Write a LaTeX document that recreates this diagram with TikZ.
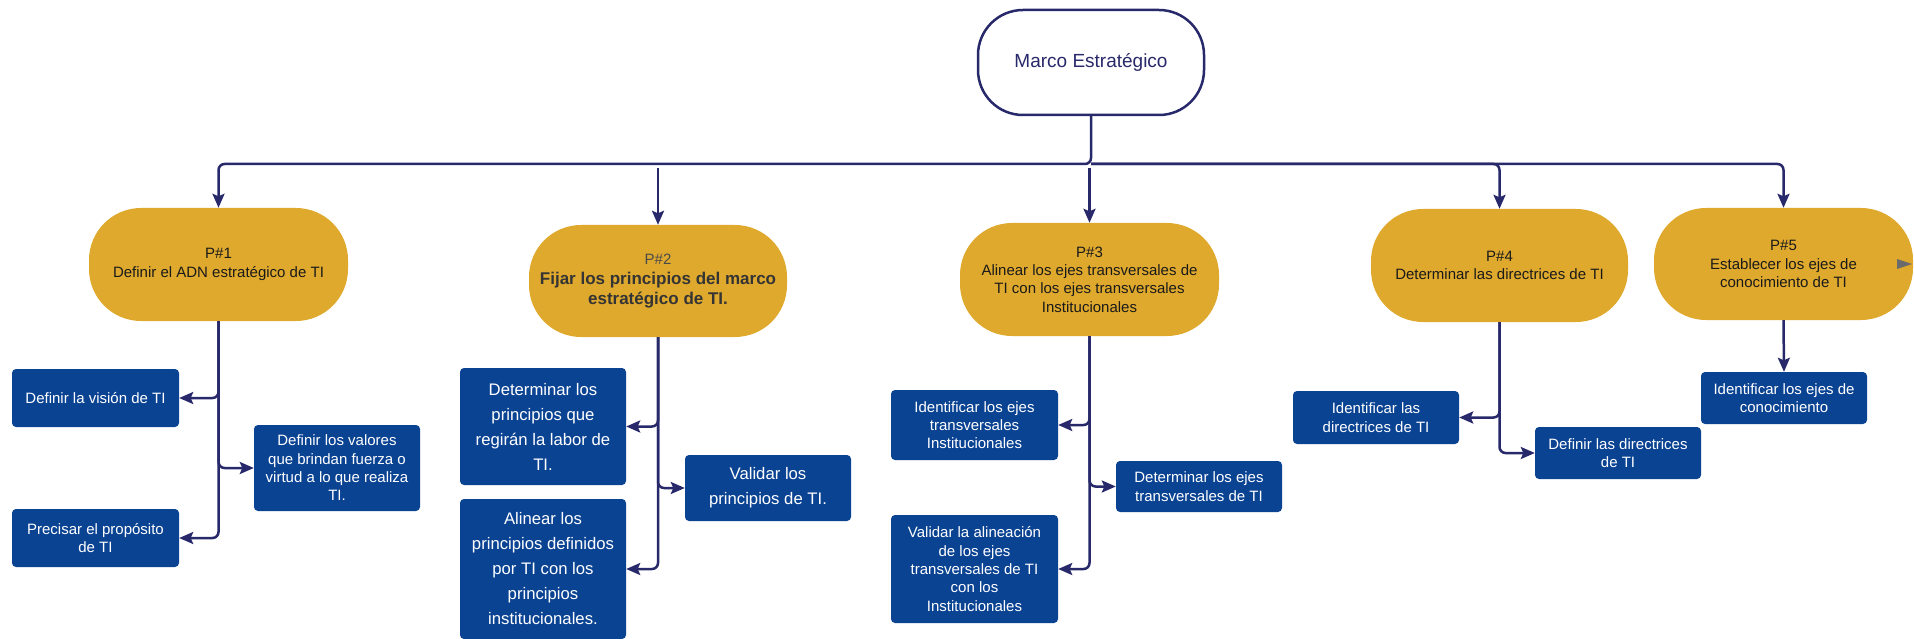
\documentclass[tikz,border=0pt]{standalone}
\usepackage{fontspec}
\setmainfont{Liberation Sans}
\usetikzlibrary{arrows.meta}
\definecolor{gold}{HTML}{DFA92E}
\definecolor{bluebox}{HTML}{0B4393}
\definecolor{navy}{HTML}{28296A}
\definecolor{ptext}{HTML}{1A1A1A}
\definecolor{pgray}{HTML}{4A4A4A}
\definecolor{tri}{HTML}{6B6B6B}
\newcommand\fsA{\fontsize{15}{18.3}\selectfont}
\newcommand\fsB{\fontsize{16.7}{25}\selectfont}
\newcommand\fsM{\fontsize{19}{22}\selectfont}
\tikzset{
  pill/.style={fill=gold, rounded corners=52pt, inner sep=0pt, align=center, text=ptext, font=\fsA},
  box/.style={fill=bluebox, text=white, rounded corners=4pt, inner sep=0pt, align=center, font=\fsA},
  boxL/.style={box, font=\fsB},
  conn/.style={draw=navy, line width=2.5pt, rounded corners=6pt},
  arr/.style={conn, -{Stealth[length=14pt,width=12pt,inset=2.5pt]}}
}
\begin{document}
\begin{tikzpicture}[x=1pt,y=-1pt]
\useasboundingbox (0,0) rectangle (1914,639);
% top
\node[draw=navy, line width=2.5pt, fill=white, rounded corners=45pt, minimum width=226pt, minimum height=105pt, inner sep=0pt, text=navy, font=\fsM] (marco) at (1091,62.5) {Marco Estratégico};
% pills
\node[pill, minimum width=259pt, minimum height=113pt] (p1) at (218.5,264.5) {P\#1\\Definir el ADN estratégico de TI};
\node[pill, minimum width=258pt, minimum height=112pt, text=pgray!70!black, font=\fontsize{17}{20}\selectfont\bfseries] (p2) at (658,281) {{\mdseries\fontsize{15}{20}\selectfont\color{pgray}P\#2}\\Fijar los principios del marco\\estratégico de TI.};
\node[pill, minimum width=259pt, minimum height=113pt] (p3) at (1089.5,279.5) {P\#3\\Alinear los ejes transversales de\\TI con los ejes transversales\\Institucionales};
\node[pill, minimum width=257pt, minimum height=113pt] (p4) at (1499.5,265.5) {P\#4\\Determinar las directrices de TI};
\node[pill, minimum width=259pt, minimum height=112pt] (p5) at (1783.5,264) {P\#5\\Establecer los ejes de\\conocimiento de TI};
\fill[tri] (1897,259) -- (1912,264) -- (1897,269) -- cycle;
% children of P1
\node[box, minimum width=167pt, minimum height=58pt] (c11) at (95.5,398) {Definir la visión de TI};
\node[box, minimum width=166pt, minimum height=86pt] (c12) at (337,468) {Definir los valores\\que brindan fuerza o\\virtud a lo que realiza\\TI.};
\node[box, minimum width=167pt, minimum height=58pt] (c13) at (95.5,538) {Precisar el propósito\\de TI};
% children of P2
\node[boxL, minimum width=166pt, minimum height=117pt] (c21) at (543,426.5) {Determinar los\\principios que\\regirán la labor de\\TI.};
\node[boxL, minimum width=166pt, minimum height=66pt] (c22) at (768,488) {Validar los\\principios de TI.};
\node[boxL, minimum width=166pt, minimum height=140pt] (c23) at (543,569) {Alinear los\\principios definidos\\por TI con los\\principios\\institucionales.};
% children of P3
\node[box, minimum width=167pt, minimum height=70pt] (c31) at (974.5,425) {Identificar los ejes\\transversales\\Institucionales};
\node[box, minimum width=166pt, minimum height=51pt] (c32) at (1199,486.5) {Determinar los ejes\\transversales de TI};
\node[box, minimum width=167pt, minimum height=108pt] (c33) at (974.5,569) {Validar la alineación\\de los ejes\\transversales de TI\\con los\\Institucionales};
% children of P4
\node[box, minimum width=166pt, minimum height=53pt] (c41) at (1376,417.5) {Identificar las\\directrices de TI};
\node[box, minimum width=166pt, minimum height=52pt] (c42) at (1618,453) {Definir las directrices\\de TI};
% child of P5
\node[box, minimum width=166pt, minimum height=52pt] (c51) at (1784,398) {Identificar los ejes de\\conocimiento};
% bus
\coordinate (bus) at (1091,164);
\draw[arr] (marco.south) -- (bus) -| (p1.north);
\draw[arr] (bus) -| (p5.north);
\draw[arr] (bus) -| (p4.north);
\path (p2.north |- bus) ++(0,4) coordinate (b2);
\path (p3.north |- bus) ++(0,4) coordinate (b3);
\draw[arr] (b2) -- (p2.north);
\draw[arr] (b3) -- (p3.north);
% child connectors
\draw[arr] (p1.south) |- (c11.east);
\draw[arr] (p1.south) |- (c12.west);
\draw[arr] (p1.south) |- (c13.east);
\draw[arr] (p2.south) |- (c21.east);
\draw[arr] (p2.south) |- (c22.west);
\draw[arr] (p2.south) |- (c23.east);
\draw[arr] (p3.south) |- (c31.east);
\draw[arr] (p3.south) |- (c32.west);
\draw[arr] (p3.south) |- (c33.east);
\draw[arr] (p4.south) |- (c41.east);
\draw[arr] (p4.south) |- (c42.west);
\draw[arr] (p5.south) -- (c51.north);
\end{tikzpicture}
\end{document}
